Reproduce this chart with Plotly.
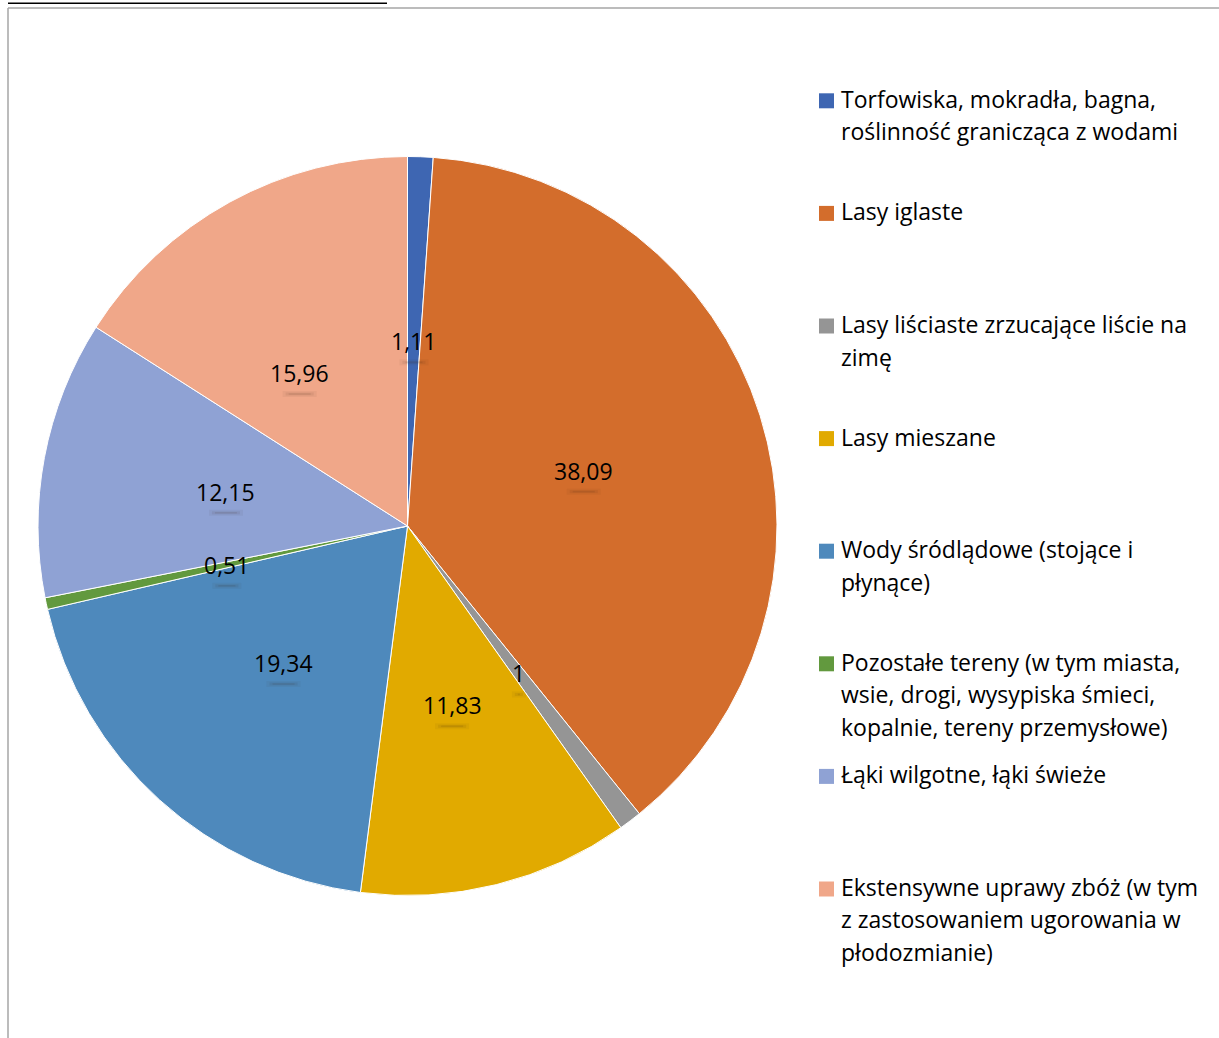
import math
import plotly.graph_objects as go

# Land-cover shares (%) drawn clockwise from 12 o'clock
categories = [
    "Torfowiska, mokradła, bagna,<br>roślinność granicząca z wodami",
    "Lasy iglaste",
    "Lasy liściaste zrzucające liście na<br>zimę",
    "Lasy mieszane",
    "Wody śródlądowe (stojące i<br>płynące)",
    "Pozostałe tereny (w tym miasta,<br>wsie, drogi, wysypiska śmieci,<br>kopalnie, tereny przemysłowe)",
    "Łąki wilgotne, łąki świeże",
    "Ekstensywne uprawy zbóż (w tym<br>z zastosowaniem ugorowania w<br>płodozmianie)",
]
shares = [1.11, 38.09, 1, 11.83, 19.34, 0.51, 12.15, 15.96]
value_labels = ["1,11", "38,09", "1", "11,83", "19,34", "0,51", "12,15", "15,96"]
colors = ["#3E66B2", "#D36D2C", "#959595", "#E1AA00",
          "#4E89BC", "#62993E", "#8FA2D4", "#F0A789"]

W, H = 1219, 1038
CX, CY, R = 407.5, 526.0, 369.5   # pie centre and radius in pixels
FONT = "Open Sans"
FS = 23
# small pixel nudges for labels moved clear of their neighbours
LABEL_NUDGE = {7: (-19, 9)}

fig = go.Figure(go.Pie(
    labels=[c.replace("<br>", " ") for c in categories],
    values=shares,
    sort=False,
    direction="clockwise",
    rotation=0,
    marker=dict(colors=colors, line=dict(color="white", width=1)),
    textinfo="none",
    hoverinfo="label+value",
    showlegend=False,
    domain=dict(x=[(CX - R) / W, (CX + R) / W],
                y=[1 - (CY + R) / H, 1 - (CY - R) / H]),
))

def px(x, y):
    return x / W, 1 - y / H

annotations = []
shapes = []

# Value labels at half radius along each slice's mid-angle
total = sum(shares)
cum = 0.0
for i, (v, lab) in enumerate(zip(shares, value_labels)):
    mid = (cum + v / 2) / total * 2 * math.pi
    cum += v
    dx, dy = LABEL_NUDGE.get(i, (0, 0))
    lx = CX + 0.5 * R * math.sin(mid) + dx
    ly = CY - 0.5 * R * math.cos(mid) + dy
    # soft shadow stroke beneath the label
    half = (9 + 5 * len(lab)) / 2
    for wdt, alpha, shrink in ((6, 0.05, 0), (3, 0.08, 3), (1.5, 0.10, 6)):
        x0, y0 = px(lx - half + shrink, ly + 21)
        x1, _ = px(lx + half - shrink, ly + 21)
        shapes.append(dict(type="line", xref="paper", yref="paper",
                           x0=x0, x1=x1, y0=y0, y1=y0,
                           line=dict(color=f"rgba(60,35,20,{alpha})", width=wdt)))
    ax, ay = px(lx, ly)
    annotations.append(dict(x=ax, y=ay, xref="paper", yref="paper",
                            text=lab, showarrow=False,
                            font=dict(family=FONT, size=FS, color="#000000"),
                            xanchor="center", yanchor="middle"))

# Legend drawn as swatches plus text lines
LEG_Y0, LEG_STEP, LINE_H = 100.8, 112.6, 32.5
for i, (cat, col) in enumerate(zip(categories, colors)):
    yc = LEG_Y0 + i * LEG_STEP
    sx0, sy0 = px(819, yc - 7.5)
    sx1, sy1 = px(834, yc + 7.5)
    shapes.append(dict(type="rect", xref="paper", yref="paper",
                       x0=sx0, x1=sx1, y0=sy1, y1=sy0,
                       fillcolor=col, line=dict(width=0)))
    for k, line in enumerate(cat.split("<br>")):
        tx, ty = px(839, yc - 2 + k * LINE_H)
        annotations.append(dict(x=tx, y=ty, xref="paper", yref="paper",
                                text=line, showarrow=False,
                                font=dict(family=FONT, size=FS, color="#000000"),
                                xanchor="left", yanchor="middle"))

# Chart frame and the rule of the caption above it
fx0, fy0 = px(8, 8)
shapes.append(dict(type="line", xref="paper", yref="paper",
                   x0=fx0, x1=1.0, y0=fy0, y1=fy0,
                   line=dict(color="#A6A6A6", width=1.5)))
shapes.append(dict(type="line", xref="paper", yref="paper",
                   x0=fx0, x1=fx0, y0=fy0, y1=0.0,
                   line=dict(color="#A6A6A6", width=1.5)))
ux0, uy = px(8, 3.3)
ux1, _ = px(387, 3.3)
shapes.append(dict(type="line", xref="paper", yref="paper",
                   x0=ux0, x1=ux1, y0=uy, y1=uy,
                   line=dict(color="#000000", width=1.5)))

fig.update_layout(
    width=W, height=H,
    margin=dict(l=0, r=0, t=0, b=0),
    paper_bgcolor="white",
    plot_bgcolor="white",
    annotations=annotations,
    shapes=shapes,
)

fig.write_html("out.html")
